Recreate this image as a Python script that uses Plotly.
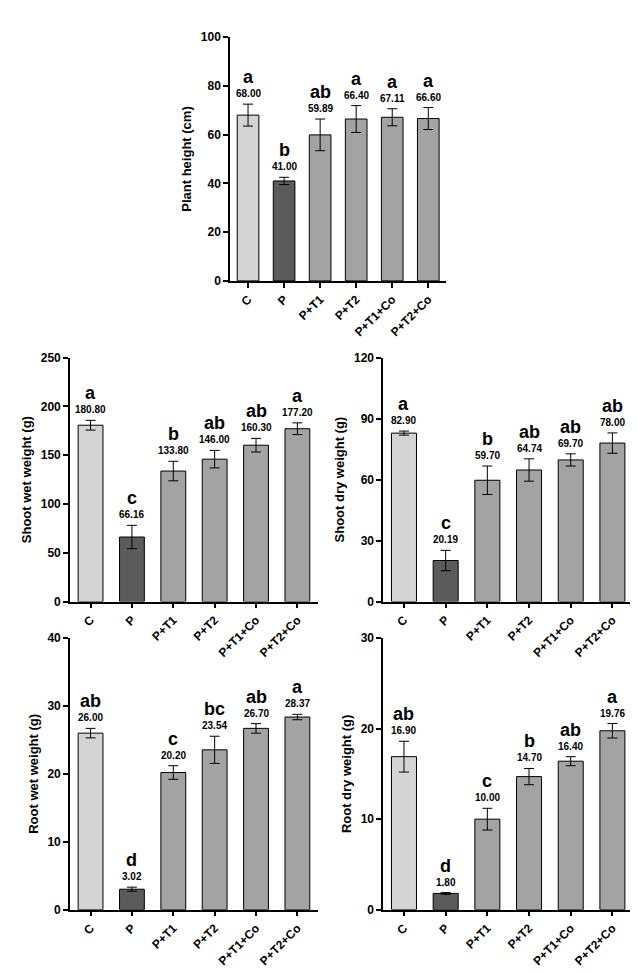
import plotly.graph_objects as go

cats = ["C", "P", "P+T1", "P+T2", "P+T1+Co", "P+T2+Co"]
colors = ["#d4d4d4", "#5b5b5b", "#a3a3a3", "#a3a3a3", "#a3a3a3", "#a3a3a3"]

height = [68.00, 41.00, 59.89, 66.40, 67.11, 66.60]
height_err = [4.5, 1.5, 6.5, 5.5, 3.5, 4.5]
height_let = ["a", "b", "ab", "a", "a", "a"]

swet = [180.80, 66.16, 133.80, 146.00, 160.30, 177.20]
swet_err = [5, 12, 10, 9, 7, 6]
swet_let = ["a", "c", "b", "ab", "ab", "a"]

sdry = [82.90, 20.19, 59.70, 64.74, 69.70, 78.00]
sdry_err = [1, 5, 7, 5.5, 3, 5]
sdry_let = ["a", "c", "b", "ab", "ab", "ab"]

rwet = [26.00, 3.02, 20.20, 23.54, 26.70, 28.37]
rwet_err = [0.7, 0.3, 1.0, 2.0, 0.7, 0.4]
rwet_let = ["ab", "d", "c", "bc", "ab", "a"]

rdry = [16.90, 1.80, 10.00, 14.70, 16.40, 19.76]
rdry_err = [1.7, 0.1, 1.2, 0.9, 0.5, 0.8]
rdry_let = ["ab", "d", "c", "b", "ab", "a"]

panels = [
    (height, height_err, height_let, "Plant height (cm)", [0, 100], 20, [0.348, 0.687], [0.723, 0.977]),
    (swet, swet_err, swet_let, "Shoot wet weight (g)", [0, 250], 50, [0.097, 0.486], [0.389, 0.643]),
    (sdry, sdry_err, sdry_let, "Shoot dry weight (g)", [0, 120], 30, [0.588, 0.98], [0.389, 0.643]),
    (rwet, rwet_err, rwet_let, "Root wet weight (g)", [0, 40], 10, [0.097, 0.486], [0.068, 0.351]),
    (rdry, rdry_err, rdry_let, "Root dry weight (g)", [0, 30], 10, [0.588, 0.98], [0.068, 0.351]),
]

fig = go.Figure()
font = "Liberation Sans"
annotations = []
for i, (vals, errs, lets, title, rng, dt, xd, yd) in enumerate(panels):
    n = "" if i == 0 else str(i + 1)
    fig.add_trace(go.Bar(
        x=cats, y=vals, marker=dict(color=colors, line=dict(color="black", width=1)),
        width=0.6,
        error_y=dict(type="data", array=errs, color="black", thickness=1, width=5),
        xaxis="x" + n, yaxis="y" + n, showlegend=False))
    axcommon = dict(showline=True, linecolor="black", linewidth=1.5, ticks="outside",
                    tickcolor="black", ticklen=5, tickwidth=1.5,
                    tickfont=dict(family=font, size=12, color="black", weight="bold"))
    fig.update_layout(**{
        "xaxis" + n: dict(domain=xd, anchor="y" + n, tickangle=-45, **axcommon),
        "yaxis" + n: dict(domain=yd, anchor="x" + n, range=rng, dtick=dt, showgrid=False,
                          zeroline=False, title=dict(text=title, font=dict(family=font, size=13, color="black", weight="bold"), standoff=6),
                          **axcommon),
    })
    for c, v, e, l in zip(cats, vals, errs, lets):
        annotations.append(dict(x=c, y=v + e, xref="x" + n, yref="y" + n, text=f"{v:.2f}",
                                showarrow=False, yanchor="bottom", yshift=3,
                                font=dict(family=font, size=10, color="black", weight="bold")))
        annotations.append(dict(x=c, y=v + e, xref="x" + n, yref="y" + n, text=l,
                                showarrow=False, yanchor="bottom", yshift=15,
                                font=dict(family=font, size=18, color="black", weight="bold")))

fig.update_layout(width=638, height=974, margin=dict(l=0, r=0, t=0, b=0),
                  plot_bgcolor="white", paper_bgcolor="white", bargap=0.4,
                  annotations=annotations)
fig.write_html("out.html")
